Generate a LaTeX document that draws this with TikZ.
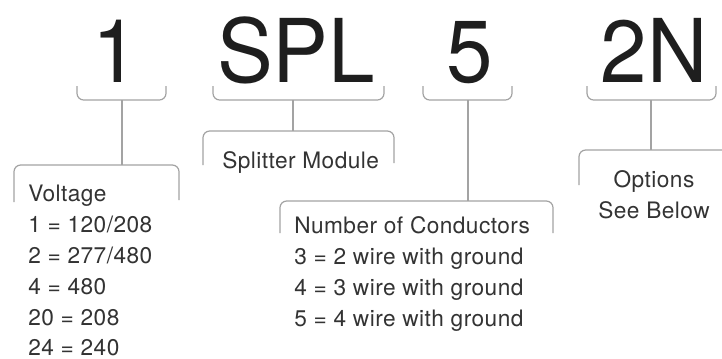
\documentclass[tikz,border=0pt]{standalone}
\usepackage{fontspec}
\setmainfont{TeX Gyre Heros}
\definecolor{linegray}{HTML}{A3A3A3}
\definecolor{bigtext}{HTML}{1E1E1E}
\definecolor{smalltext}{HTML}{333333}
\newcommand\lblfont{\fontsize{17}{23}\selectfont\addfontfeatures{LetterSpace=2}}
\newcommand\bigfont{\fontsize{66}{66}\selectfont}
\tikzset{
  conn/.style={draw=linegray, line width=0.9pt, rounded corners=5pt},
  stem/.style={draw=linegray, line width=0.9pt},
  big/.style={inner sep=0pt, anchor=base, text=bigtext, font=\bigfont},
  lbl/.style={inner sep=0pt, anchor=base west, text=smalltext, font=\lblfont},
  lblc/.style={inner sep=0pt, anchor=base, text=smalltext, font=\lblfont},
}
\begin{document}
\begin{tikzpicture}[x=0.75pt,y=-0.75pt]
\clip (0,0) rectangle (722,358);
\fill[white] (0,0) rectangle (722,358);

% big code characters
\node[big] (c1)   at (116,82) {\scalebox{0.95}[1]{1}};
\node[big] (cspl) at (296,82) {\scalebox{0.95}[1]{SPL}};
\node[big] (c5)   at (470,82) {\scalebox{0.95}[1]{5}};
\node[big] (c2n)  at (654,82) {\scalebox{0.95}[1]{2N}};

% brackets
\draw[conn] (77,86) -- (77,100) -- (166,100) -- (166,86);
\draw[conn] (213,86) -- (213,100) -- (384,100) -- (384,86);
\draw[conn] (423,86) -- (423,100) -- (512,100) -- (512,86);
\draw[conn] (587,86) -- (587,100) -- (716,100) -- (716,86);
\coordinate (b1) at (122,100);
\coordinate (bspl) at (293,100);
\coordinate (b5) at (468,100);
\coordinate (b2n) at (651,100);

% boxes (open at the bottom)
\draw[conn] (14,202) -- (14,165) -- (179,165) -- (179,200);
\draw[conn] (203,165) -- (203,131) -- (394,131) -- (394,163);
\draw[conn] (280,233) -- (280,201) -- (553,201) -- (553,233);
\draw[conn] (579,185) -- (579,150) -- (740,150) -- (740,185);
\coordinate (t1) at (122,165);
\coordinate (tspl) at (293,131);
\coordinate (t5) at (468,201);
\coordinate (t2n) at (651,150);

% stems
\draw[stem] (b1) -- (t1);
\draw[stem] (bspl) -- (tspl);
\draw[stem] (b5) -- (t5);
\draw[stem] (b2n) -- (t2n);

% voltage
\node[lbl] (v0) at (28,201) {Voltage};
\node[lbl] (v1) at (28,232) {1 = 120/208};
\node[lbl] (v2) at (28,263) {2 = 277/480};
\node[lbl] (v3) at (28,294) {4 = 480};
\node[lbl] (v4) at (28,325) {20 = 208};
\node[lbl] (v5) at (28,355) {24 = 240};

% splitter
\node[lbl] (s0) at (222,168) {Splitter Module};

% conductors
\node[lbl] (n0) at (294,233) {Number of Conductors};
\node[lbl] (n1) at (294,264) {3 = 2 wire with ground};
\node[lbl] (n2) at (294,295) {4 = 3 wire with ground};
\node[lbl] (n3) at (294,326) {5 = 4 wire with ground};

% options
\node[lblc] (o0) at (654,187) {Options};
\node[lblc] (o1) at (654,218) {See Below};
\end{tikzpicture}
\end{document}
